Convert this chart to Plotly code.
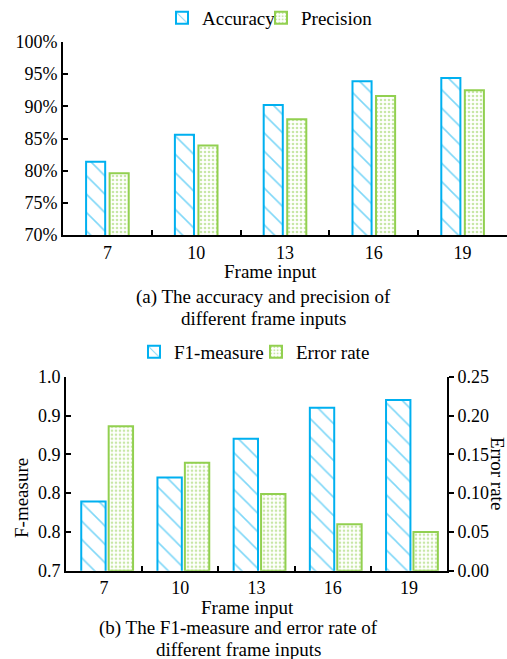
import plotly.graph_objects as go

# ---------------- data ----------------
frames = ["7", "10", "13", "16", "19"]
accuracy = [81.4, 85.6, 90.2, 93.9, 94.4]      # %
precision = [79.6, 83.9, 88.0, 91.6, 92.5]     # %
f1_measure = [0.807, 0.844, 0.904, 0.952, 0.964]
error_rate = [0.186, 0.139, 0.099, 0.060, 0.050]

# ---------------- style ----------------
BLUE = "#00B0F0"
GREEN = "#92D050"
FONT = "Liberation Serif"
W, H = 507, 659


def fx(x):
    return x / W


def fy(y):
    return 1 - y / H


hatch = dict(shape="\\", fgcolor=BLUE, bgcolor="white", size=13, solidity=0.12)
dots = dict(shape=".", fgcolor=GREEN, bgcolor="white", size=4, solidity=0.35)

fig = go.Figure()

# top chart
fig.add_trace(go.Bar(x=frames, y=accuracy, name="Accuracy", xaxis="x", yaxis="y",
                     width=0.215, offset=-0.24, legend="legend",
                     marker=dict(color="white", line=dict(color=BLUE, width=2), pattern=hatch)))
fig.add_trace(go.Bar(x=frames, y=precision, name="Precision", xaxis="x", yaxis="y",
                     width=0.215, offset=0.025, legend="legend2",
                     marker=dict(color="white", line=dict(color=GREEN, width=2), pattern=dots)))

# bottom chart
fig.add_trace(go.Bar(x=frames, y=f1_measure, name="F1-measure", xaxis="x2", yaxis="y2",
                     width=0.32, offset=-0.30, legend="legend3",
                     marker=dict(color="white", line=dict(color=BLUE, width=2), pattern=hatch)))
fig.add_trace(go.Bar(x=frames, y=error_rate, name="Error rate", xaxis="x2", yaxis="y3",
                     width=0.32, offset=0.06, legend="legend4",
                     marker=dict(color="white", line=dict(color=GREEN, width=2), pattern=dots)))

axis_common = dict(showline=True, linecolor="black", linewidth=2, showgrid=False,
                   zeroline=False, ticklen=5, tickwidth=2, tickcolor="black",
                   automargin=False,
                   tickfont=dict(family=FONT, size=18, color="black"))

legend_common = dict(orientation="h", xanchor="left", yanchor="middle", indentation=-12,
                     font=dict(family=FONT, size=19, color="black"),
                     bgcolor="rgba(0,0,0,0)")

fig.update_layout(
    width=W, height=H,
    margin=dict(l=0, r=0, t=0, b=0, autoexpand=False),
    paper_bgcolor="white", plot_bgcolor="white",
    font=dict(family=FONT, size=19, color="black"),
    showlegend=True,
    xaxis=dict(domain=[fx(63), 1.0], anchor="y", type="category", range=[-0.5, 4.5],
               ticks="inside", tickson="boundaries", **axis_common),
    yaxis=dict(domain=[fy(235), fy(42)], anchor="x", range=[70, 100], tick0=70, dtick=5,
               ticksuffix="%", ticks="inside", **axis_common),
    xaxis2=dict(domain=[fx(66), fx(447)], anchor="y2", type="category", range=[-0.5, 4.5],
                ticks="inside", tickson="boundaries", **axis_common),
    yaxis2=dict(domain=[fy(570.7), fy(376.7)], anchor="x2", range=[0.7, 1.0], tick0=0.7,
                dtick=0.06, tickformat=".1f", ticks="inside", **axis_common),
    yaxis3=dict(anchor="x2", overlaying="y2", side="right", range=[0, 0.25], tick0=0,
                dtick=0.05, tickformat=".2f", ticks="outside", **axis_common),
    legend=dict(x=fx(174), y=fy(18), **legend_common),
    legend2=dict(x=fx(273), y=fy(18), **legend_common),
    legend3=dict(x=fx(146), y=fy(352), **legend_common),
    legend4=dict(x=fx(268), y=fy(352), **legend_common),
)

ann = dict(xref="paper", yref="paper", showarrow=False, xanchor="center", yanchor="middle",
           font=dict(family=FONT, size=19, color="black"))
annotations = [
    dict(text="Frame input", x=fx(270), y=fy(271), **ann),
    dict(text="(a) The accuracy and precision of", x=fx(263), y=fy(297), **ann),
    dict(text="different frame inputs", x=fx(263), y=fy(318), **ann),
    dict(text="Frame input", x=fx(247.5), y=fy(607), **ann),
    dict(text="(b) The F1-measure and error rate of", x=fx(238.5), y=fy(628), **ann),
    dict(text="different frame inputs", x=fx(238.5), y=fy(649), **ann),
    dict(text="F-measure", x=fx(21), y=fy(498), textangle=-90, **ann),
    dict(text="Error rate", x=fx(498), y=fy(473), textangle=90, **ann),
]
fig.update_layout(annotations=annotations)

fig.write_html("out.html", config={"displayModeBar": False},
               post_script="document.body.style.margin='0';")
